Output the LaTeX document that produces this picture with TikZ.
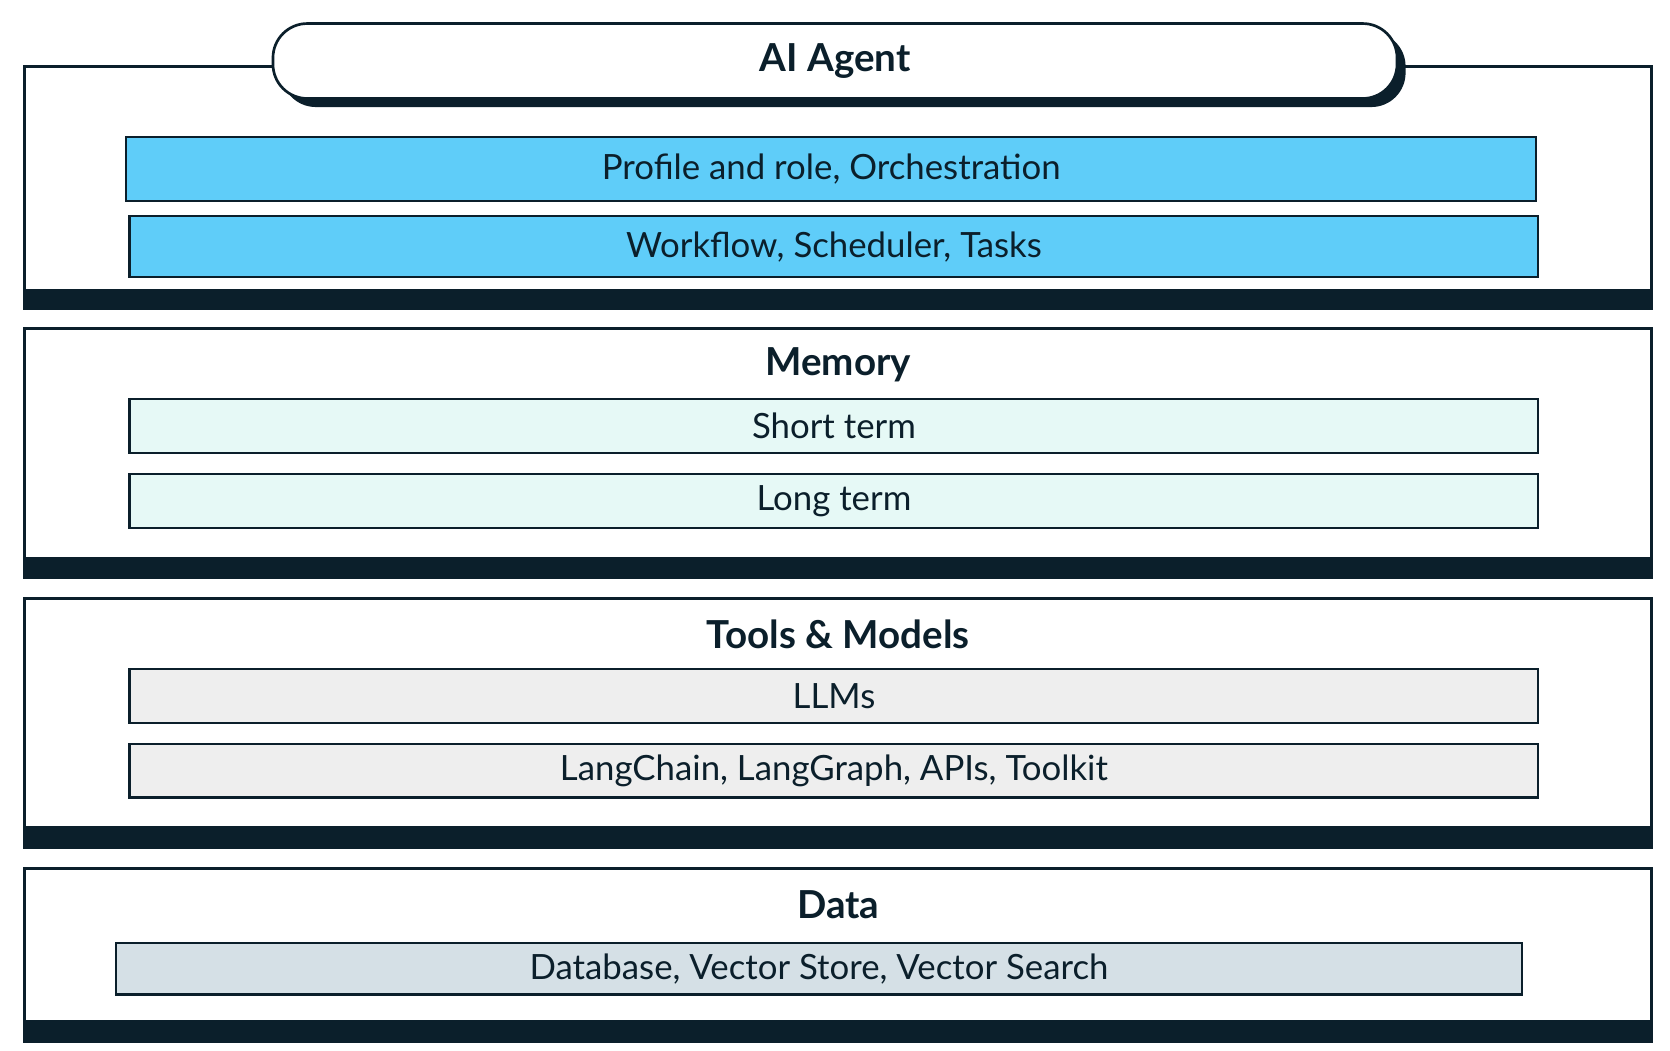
\documentclass[tikz,border=0pt]{standalone}
\usepackage{fontspec}
\setmainfont{Lato}
\usetikzlibrary{positioning}
\definecolor{ink}{HTML}{0B1F2B}
\definecolor{agentblue}{HTML}{5FCDF9}
\definecolor{memmint}{HTML}{E6F9F6}
\definecolor{toolgrey}{HTML}{EEEEEE}
\definecolor{dataslate}{HTML}{D5E0E6}
\tikzset{
  panel/.style={draw=ink, line width=2.5pt, fill=white},
  band/.style={fill=ink},
  layerbox/.style={draw=ink, line width=2pt, anchor=north west, inner sep=0pt,
    font=\fontsize{32.5}{38}\selectfont, text=ink},
  title/.style={font=\fontsize{36}{42}\selectfont\bfseries, text=ink}
}
\begin{document}
\begin{tikzpicture}[x=1pt, y=-1pt]
\useasboundingbox[fill=white] (0,0) rectangle (1560,981);
% Panels
    \draw[panel] (23,62) rectangle (1543,288);
    \fill[band] (23,270) rectangle (1543,288);
    \draw[panel] (23,307) rectangle (1543,540);
    \fill[band] (23,520) rectangle (1543,540);
    \draw[panel] (23,559) rectangle (1543,792);
    \fill[band] (23,772) rectangle (1543,792);
    \draw[panel] (23,811) rectangle (1543,973);
    \fill[band] (23,953) rectangle (1543,973);
% Agent pill
    \fill[ink, rounded corners=32pt] (263,30) rectangle (1313,100);
    \node[draw=ink, line width=2.5pt, fill=white, rounded corners=32pt,
      minimum width=1050pt, minimum height=70pt, title] (agent) at (780,57) {AI Agent};
% Titles
    \node[title] (memory) at (783,341) {Memory};
    \node[title] (tools) at (783,593) {Tools \& Models};
    \node[title] (data) at (783,845) {Data};
% Layer boxes
    \node[layerbox, fill=agentblue, minimum width=1317pt, minimum height=60pt] (profile) at (117,127) {Profile and role, Orchestration};
    \node[layerbox, fill=agentblue, minimum width=1316pt, minimum height=57pt] (workflow) at (120,201) {Workflow, Scheduler, Tasks};
    \node[layerbox, fill=memmint, minimum width=1316pt, minimum height=50pt] (short) at (120,372) {Short term};
    \node[layerbox, fill=memmint, minimum width=1316pt, minimum height=50pt] (long) at (120,442) {Long term};
    \node[layerbox, fill=toolgrey, minimum width=1316pt, minimum height=50pt] (llms) at (120,624) {LLMs};
    \node[layerbox, fill=toolgrey, minimum width=1316pt, minimum height=50pt] (lang) at (120,694) {LangChain, LangGraph, APIs, Toolkit};
    \node[layerbox, fill=dataslate, minimum width=1314pt, minimum height=48pt] (db) at (107,880) {Database, Vector Store, Vector Search};
\end{tikzpicture}
\end{document}
